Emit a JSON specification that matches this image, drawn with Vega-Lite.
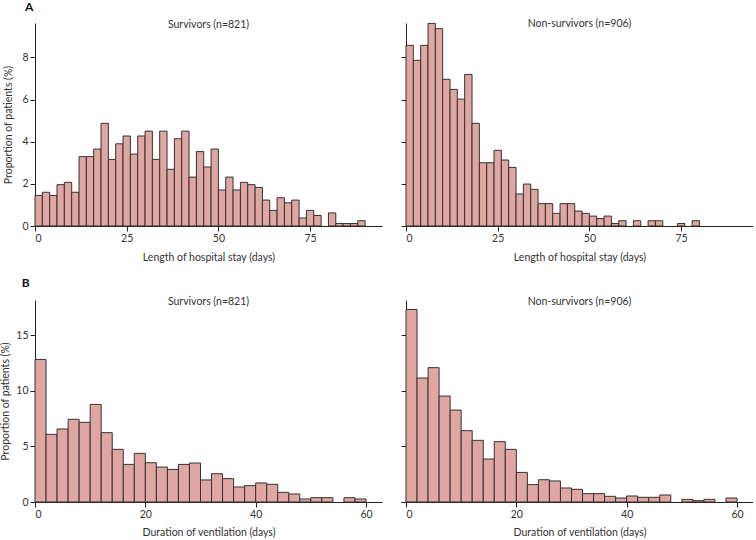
{
  "$schema": "https://vega.github.io/schema/vega-lite/v6.json",
  "padding": {"left": 0, "top": 0, "right": 0, "bottom": 0},
  "background": "white",
  "config": {
    "font": "Lato",
    "view": {"stroke": null},
    "axis": {
      "grid": false,
      "domainColor": "#222",
      "tickColor": "#222",
      "tickSize": 5,
      "labelFontSize": 10.5,
      "labelColor": "#333",
      "labelFont": "Lato",
      "titleFont": "Lato",
      "titleFontSize": 10.5,
      "titleFontWeight": "normal",
      "titleColor": "#333",
      "labelPadding": 2
    },
    "title": {"font": "Lato", "fontSize": 10.5, "fontWeight": "normal", "color": "#333"},
    "concat": {"spacing": 18}
  },
  "datasets": {
    "los_surv": [
      {"start": 0, "end": 2, "pct": 1.45}, {"start": 2, "end": 4, "pct": 1.6}, {"start": 4, "end": 6, "pct": 1.45},
      {"start": 6, "end": 8, "pct": 1.96}, {"start": 8, "end": 10, "pct": 2.07}, {"start": 10, "end": 12, "pct": 1.6},
      {"start": 12, "end": 14, "pct": 3.29}, {"start": 14, "end": 16, "pct": 3.29}, {"start": 16, "end": 18, "pct": 3.65},
      {"start": 18, "end": 20, "pct": 4.87}, {"start": 20, "end": 22, "pct": 3.16}, {"start": 22, "end": 24, "pct": 3.9},
      {"start": 24, "end": 26, "pct": 4.27}, {"start": 26, "end": 28, "pct": 3.41}, {"start": 28, "end": 30, "pct": 4.27},
      {"start": 30, "end": 32, "pct": 4.5}, {"start": 32, "end": 34, "pct": 3.16}, {"start": 34, "end": 36, "pct": 4.5},
      {"start": 36, "end": 38, "pct": 2.69}, {"start": 38, "end": 40, "pct": 4.14}, {"start": 40, "end": 42, "pct": 4.5},
      {"start": 42, "end": 44, "pct": 2.32}, {"start": 44, "end": 46, "pct": 3.53}, {"start": 46, "end": 48, "pct": 2.8},
      {"start": 48, "end": 50, "pct": 3.65}, {"start": 50, "end": 52, "pct": 1.71}, {"start": 52, "end": 54, "pct": 2.32},
      {"start": 54, "end": 56, "pct": 1.71}, {"start": 56, "end": 58, "pct": 2.07}, {"start": 58, "end": 60, "pct": 1.96},
      {"start": 60, "end": 62, "pct": 1.83}, {"start": 62, "end": 64, "pct": 1.23}, {"start": 64, "end": 66, "pct": 0.74},
      {"start": 66, "end": 68, "pct": 1.34}, {"start": 68, "end": 70, "pct": 1.1}, {"start": 70, "end": 72, "pct": 1.23},
      {"start": 72, "end": 74, "pct": 0.38}, {"start": 74, "end": 76, "pct": 0.74}, {"start": 76, "end": 78, "pct": 0.5},
      {"start": 80, "end": 82, "pct": 0.62}, {"start": 82, "end": 84, "pct": 0.12}, {"start": 84, "end": 86, "pct": 0.12},
      {"start": 86, "end": 88, "pct": 0.12}, {"start": 88, "end": 90, "pct": 0.25}
    ],
    "los_non": [
      {"start": 0, "end": 2, "pct": 8.57}, {"start": 2, "end": 4, "pct": 7.86}, {"start": 4, "end": 6, "pct": 8.57},
      {"start": 6, "end": 8, "pct": 9.61}, {"start": 8, "end": 10, "pct": 9.36}, {"start": 10, "end": 12, "pct": 6.96},
      {"start": 12, "end": 14, "pct": 6.48}, {"start": 14, "end": 16, "pct": 6.02}, {"start": 16, "end": 18, "pct": 7.19},
      {"start": 18, "end": 20, "pct": 4.87}, {"start": 20, "end": 22, "pct": 3.0}, {"start": 22, "end": 24, "pct": 3.0},
      {"start": 24, "end": 26, "pct": 3.59}, {"start": 26, "end": 28, "pct": 3.13}, {"start": 28, "end": 30, "pct": 2.78},
      {"start": 30, "end": 32, "pct": 1.52}, {"start": 32, "end": 34, "pct": 1.99}, {"start": 34, "end": 36, "pct": 1.74},
      {"start": 36, "end": 38, "pct": 1.06}, {"start": 38, "end": 40, "pct": 1.06}, {"start": 40, "end": 42, "pct": 0.6},
      {"start": 42, "end": 44, "pct": 1.06}, {"start": 44, "end": 46, "pct": 1.06}, {"start": 46, "end": 48, "pct": 0.71},
      {"start": 48, "end": 50, "pct": 0.6}, {"start": 50, "end": 52, "pct": 0.47}, {"start": 52, "end": 54, "pct": 0.35},
      {"start": 54, "end": 56, "pct": 0.47}, {"start": 56, "end": 58, "pct": 0.12}, {"start": 58, "end": 60, "pct": 0.25},
      {"start": 62, "end": 64, "pct": 0.25}, {"start": 66, "end": 68, "pct": 0.25}, {"start": 68, "end": 70, "pct": 0.25},
      {"start": 74, "end": 76, "pct": 0.12}, {"start": 78, "end": 80, "pct": 0.25}
    ],
    "vent_surv": [
      {"start": 0, "end": 2, "pct": 12.81}, {"start": 2, "end": 4, "pct": 6.08}, {"start": 4, "end": 6, "pct": 6.56},
      {"start": 6, "end": 8, "pct": 7.43}, {"start": 8, "end": 10, "pct": 7.16}, {"start": 10, "end": 12, "pct": 8.77},
      {"start": 12, "end": 14, "pct": 6.23}, {"start": 14, "end": 16, "pct": 4.73}, {"start": 16, "end": 18, "pct": 3.38},
      {"start": 18, "end": 20, "pct": 4.37}, {"start": 20, "end": 22, "pct": 3.53}, {"start": 22, "end": 24, "pct": 3.14},
      {"start": 24, "end": 26, "pct": 2.93}, {"start": 26, "end": 28, "pct": 3.38}, {"start": 28, "end": 30, "pct": 3.5},
      {"start": 30, "end": 32, "pct": 1.98}, {"start": 32, "end": 34, "pct": 2.54}, {"start": 34, "end": 36, "pct": 2.1},
      {"start": 36, "end": 38, "pct": 1.35}, {"start": 38, "end": 40, "pct": 1.47}, {"start": 40, "end": 42, "pct": 1.71},
      {"start": 42, "end": 44, "pct": 1.59}, {"start": 44, "end": 46, "pct": 0.87}, {"start": 46, "end": 48, "pct": 0.72},
      {"start": 48, "end": 50, "pct": 0.27}, {"start": 50, "end": 52, "pct": 0.39}, {"start": 52, "end": 54, "pct": 0.39},
      {"start": 56, "end": 58, "pct": 0.39}, {"start": 58, "end": 60, "pct": 0.27}
    ],
    "vent_non": [
      {"start": 0, "end": 2, "pct": 17.3}, {"start": 2, "end": 4, "pct": 11.14}, {"start": 4, "end": 6, "pct": 12.07},
      {"start": 6, "end": 8, "pct": 9.52}, {"start": 8, "end": 10, "pct": 8.26}, {"start": 10, "end": 12, "pct": 6.41},
      {"start": 12, "end": 14, "pct": 5.54}, {"start": 14, "end": 16, "pct": 3.86}, {"start": 16, "end": 18, "pct": 5.42},
      {"start": 18, "end": 20, "pct": 4.73}, {"start": 20, "end": 22, "pct": 2.66}, {"start": 22, "end": 24, "pct": 1.56},
      {"start": 24, "end": 26, "pct": 2.0}, {"start": 26, "end": 28, "pct": 1.89}, {"start": 28, "end": 30, "pct": 1.26},
      {"start": 30, "end": 32, "pct": 1.14}, {"start": 32, "end": 34, "pct": 0.75}, {"start": 34, "end": 36, "pct": 0.75},
      {"start": 36, "end": 38, "pct": 0.51}, {"start": 38, "end": 40, "pct": 0.36}, {"start": 40, "end": 42, "pct": 0.54},
      {"start": 42, "end": 44, "pct": 0.42}, {"start": 44, "end": 46, "pct": 0.42}, {"start": 46, "end": 48, "pct": 0.63},
      {"start": 50, "end": 52, "pct": 0.24}, {"start": 52, "end": 54, "pct": 0.12}, {"start": 54, "end": 56, "pct": 0.24},
      {"start": 58, "end": 60, "pct": 0.36}
    ]
  },
  "spacing": 14,
  "vconcat": [
    {
      "title": {"text": "A", "anchor": "start", "fontSize": 12, "fontWeight": "bold", "color": "#111", "dx": 21, "offset": 5.5},
      "hconcat": [
        {
          "width": 347, "height": 203,
          "data": {"name": "los_surv"},
          "title": {"text": "Survivors (n=821)", "offset": -7},
          "mark": {"type": "rect", "fill": "#e0a6a2", "stroke": "#333", "strokeWidth": 1},
          "encoding": {
            "x": {"field": "start", "type": "quantitative", "scale": {"domain": [0, 94.6], "nice": false, "zero": false},
                  "axis": {"values": [0, 25, 50, 75], "title": "Length of hospital stay (days)", "titlePadding": 9}},
            "x2": {"field": "end"},
            "y": {"field": "pct", "type": "quantitative", "scale": {"domain": [0, 9.63], "nice": false},
                  "axis": {"values": [0, 2, 4, 6, 8], "title": "Proportion of patients (%)", "titlePadding": 8}},
            "y2": {"datum": 0}
          }
        },
        {
          "width": 347, "height": 203,
          "data": {"name": "los_non"},
          "title": {"text": "Non-survivors (n=906)", "offset": -7},
          "mark": {"type": "rect", "fill": "#e0a6a2", "stroke": "#333", "strokeWidth": 1},
          "encoding": {
            "x": {"field": "start", "type": "quantitative", "scale": {"domain": [0, 94.6], "nice": false, "zero": false},
                  "axis": {"values": [0, 25, 50, 75], "title": "Length of hospital stay (days)", "titlePadding": 9}},
            "x2": {"field": "end"},
            "y": {"field": "pct", "type": "quantitative", "scale": {"domain": [0, 9.63], "nice": false},
                  "axis": {"values": [0, 2, 4, 6, 8], "labels": false, "title": null}},
            "y2": {"datum": 0}
          }
        }
      ]
    },
    {
      "title": {"text": "B", "anchor": "start", "fontSize": 12, "fontWeight": "bold", "color": "#111", "dx": 21, "offset": 6.5},
      "hconcat": [
        {
          "width": 347, "height": 202,
          "data": {"name": "vent_surv"},
          "title": {"text": "Survivors (n=821)", "offset": -7},
          "mark": {"type": "rect", "fill": "#e0a6a2", "stroke": "#333", "strokeWidth": 1},
          "encoding": {
            "x": {"field": "start", "type": "quantitative", "scale": {"domain": [0, 62.9], "nice": false, "zero": false},
                  "axis": {"values": [0, 20, 40, 60], "title": "Duration of ventilation (days)", "titlePadding": 8}},
            "x2": {"field": "end"},
            "y": {"field": "pct", "type": "quantitative", "scale": {"domain": [0, 18.15], "nice": false},
                  "axis": {"values": [0, 5, 10, 15], "title": "Proportion of patients (%)", "titlePadding": 5}},
            "y2": {"datum": 0}
          }
        },
        {
          "width": 347, "height": 202,
          "data": {"name": "vent_non"},
          "title": {"text": "Non-survivors (n=906)", "offset": -7},
          "mark": {"type": "rect", "fill": "#e0a6a2", "stroke": "#333", "strokeWidth": 1},
          "encoding": {
            "x": {"field": "start", "type": "quantitative", "scale": {"domain": [0, 62.9], "nice": false, "zero": false},
                  "axis": {"values": [0, 20, 40, 60], "title": "Duration of ventilation (days)", "titlePadding": 8}},
            "x2": {"field": "end"},
            "y": {"field": "pct", "type": "quantitative", "scale": {"domain": [0, 18.15], "nice": false},
                  "axis": {"values": [0, 5, 10, 15], "labels": false, "title": null}},
            "y2": {"datum": 0}
          }
        }
      ]
    }
  ]
}
